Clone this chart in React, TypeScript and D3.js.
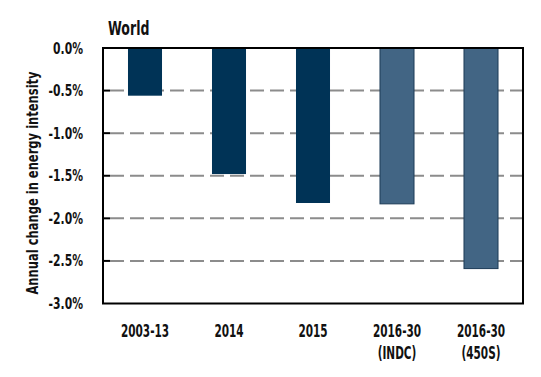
import React from "react";
import * as d3 from "d3";

const categories = ["2003-13", "2014", "2015", "2016-30\n(INDC)", "2016-30\n(450S)"];
const values = [-0.56, -1.48, -1.82, -1.83, -2.59];
const barColors = ["#003356", "#003356", "#003356", "#426584", "#426584"];
const yTicks = [0, -0.5, -1.0, -1.5, -2.0, -2.5, -3.0];

const W = 541, H = 377;
const M = { left: 103, top: 48, right: 523, bottom: 303.5 };
const FONT = "'DejaVu Sans', sans-serif";

const fmt = (t: number) => d3.format(".1f")(t).replace("\u2212", "-") + "%";

function NText({ x, y, sx, size, anchor = "start", rotate = 0, children }: any) {
  return (
    <g transform={`translate(${x},${y}) rotate(${rotate}) scale(${sx},1)`}>
      <text x={0} y={0} textAnchor={anchor} fontFamily={FONT} fontWeight="bold" fontSize={size} fill="#111">
        {children}
      </text>
    </g>
  );
}

export default function App() {
  const x = d3.scaleBand<number>().domain(d3.range(categories.length)).range([M.left, M.right]).paddingInner(0.595).paddingOuter(0.2975);
  const y = d3.scaleLinear().domain([0, -3]).range([M.top, M.bottom]);
  return (
    <svg width={W} height={H} style={{ position: "absolute", left: 0, top: 0, background: "#fff" }}>
      <NText x={108} y={35} sx={0.66} size={19}>World</NText>
      {yTicks.filter(t => t !== 0 && t !== -3).map(t => (
        <g key={t}>
          <line x1={M.left + 7} x2={M.right} y1={y(t)} y2={y(t)} stroke="#8c8c8c" strokeWidth={2} strokeDasharray="14,6" />
          <line x1={M.left} x2={M.left + 7} y1={y(t)} y2={y(t)} stroke="#000" strokeWidth={2} />
        </g>
      ))}
      {values.map((v, i) => (
        <rect key={i} x={x(i)} y={y(0)} width={x.bandwidth()} height={y(v) - y(0)}
          fill={barColors[i]} stroke={i >= 3 ? "#1d3b57" : "none"} strokeWidth={1} />
      ))}
      <rect x={M.left} y={M.top} width={M.right - M.left} height={M.bottom - M.top} fill="none" stroke="#000" strokeWidth={2} />
      {yTicks.map(t => (
        <NText key={t} x={83} y={y(t) + 5.5} sx={0.72} size={15} anchor="end">{fmt(t)}</NText>
      ))}
      {categories.map((c, i) => (
        c.split("\n").map((line, j) => (
          <NText key={i + "-" + j} x={(x(i) as number) + x.bandwidth() / 2} y={337 + j * 22} sx={0.6} size={17.5} anchor="middle">{line}</NText>
        ))
      ))}
      <NText x={38} y={183} rotate={-90} sx={0.72} size={16} anchor="middle">Annual change in energy intensity</NText>
    </svg>
  );
}
